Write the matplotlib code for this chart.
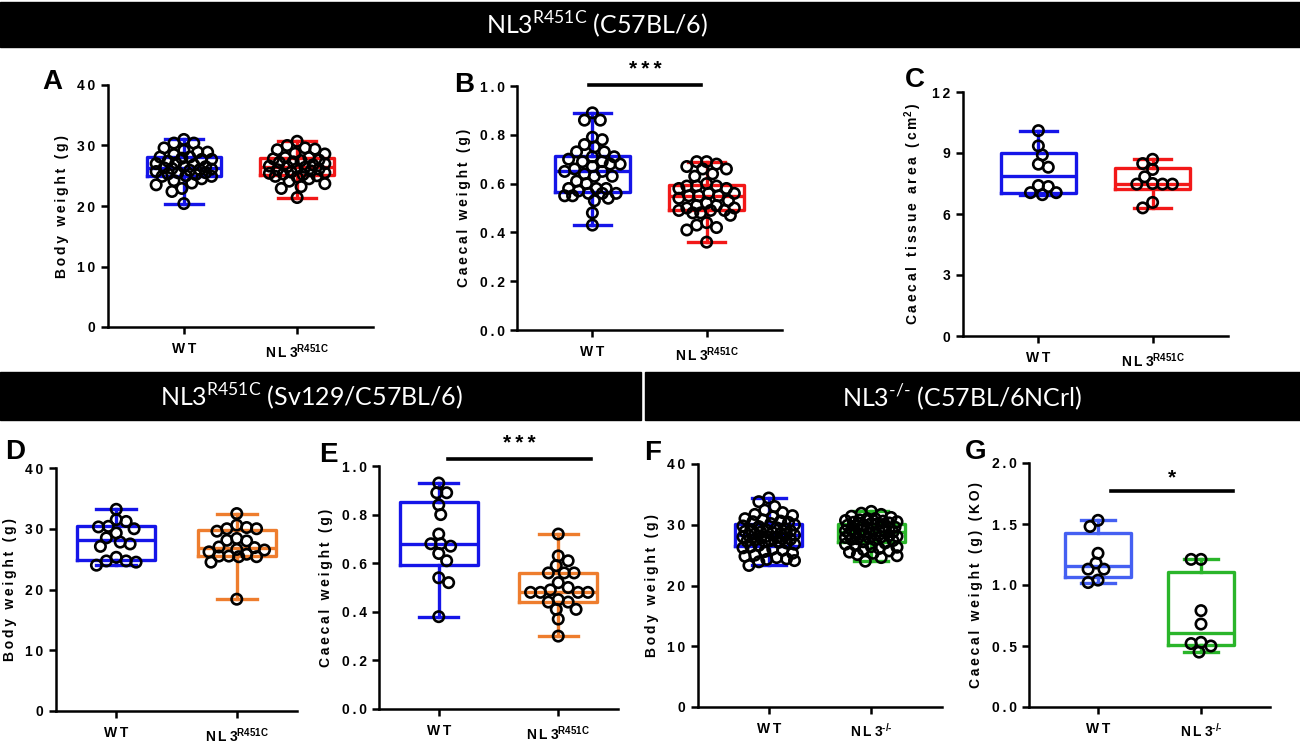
import numpy as np
import matplotlib
matplotlib.use("Agg")
import matplotlib.pyplot as plt
from matplotlib.patches import Rectangle

plt.rcParams['font.family'] = ['Liberation Sans', 'DejaVu Sans']
plt.rcParams['font.weight'] = 'bold'

W, H = 1300, 745

# ---- data ----
groups_r451c = ["WT", "NL3$^{\\mathregular{R451C}}$"]
groups_ko = ["WT", "NL3$^{\\mathregular{\u2010/\u2010}}$"]

a_wt = [31.0, 30.4, 30.4, 29.6, 29.2, 28.9, 28.9, 28.5, 28.1, 28.1, 27.9, 27.7, 27.7,
        27.4, 27.1, 27.0, 26.8, 26.5, 26.5, 26.3, 26.2, 26.1, 26.0, 25.9, 25.7, 25.5,
        25.5, 25.3, 25.2, 25.0, 24.9, 24.9, 24.5, 24.2, 23.8, 23.5, 22.9, 22.4, 20.4]
a_nl3 = [30.7, 30.0, 29.6, 29.4, 29.3, 28.7, 28.6, 28.0, 28.0, 27.8, 27.6, 27.5, 27.3,
         27.2, 27.0, 26.8, 26.6, 26.5, 26.4, 26.2, 26.1, 26.0, 25.8, 25.6, 25.5, 25.4,
         25.3, 25.2, 25.0, 24.9, 24.8, 24.5, 24.1, 23.7, 23.2, 22.9, 21.4]

b_wt = [0.89, 0.86, 0.86, 0.79, 0.78, 0.76, 0.75, 0.73, 0.73, 0.71, 0.71, 0.70, 0.69,
        0.69, 0.68, 0.68, 0.67, 0.66, 0.65, 0.65, 0.64, 0.63, 0.63, 0.61, 0.60, 0.58,
        0.58, 0.58, 0.57, 0.56, 0.56, 0.56, 0.55, 0.55, 0.54, 0.53, 0.48, 0.43]
b_nl3 = [0.69, 0.69, 0.68, 0.67, 0.66, 0.66, 0.64, 0.63, 0.60, 0.59, 0.59, 0.59, 0.58,
         0.58, 0.56, 0.56, 0.55, 0.55, 0.55, 0.54, 0.53, 0.52, 0.51, 0.51, 0.50, 0.50,
         0.49, 0.49, 0.49, 0.48, 0.48, 0.47, 0.44, 0.43, 0.42, 0.41, 0.36]

c_wt = [10.1, 9.35, 8.9, 8.45, 8.3, 7.4, 7.35, 7.05, 6.95, 7.05]
c_nl3 = [8.69, 8.48, 8.19, 7.83, 7.5, 7.47, 7.47, 7.47, 6.57, 6.3]

d_wt = [33.2, 31.5, 31.2, 30.4, 30.0, 30.3, 29.3, 28.5, 27.5, 27.1, 27.8, 25.3, 24.7,
        24.0, 24.5, 24.7]
d_nl3 = [32.5, 30.2, 30.0, 30.6, 30.0, 29.6, 28.4, 28.1, 28.0, 27.0, 26.9, 26.5, 26.6,
         26.2, 25.8, 25.5, 25.4, 25.4, 25.5, 24.5, 18.4]

e_wt = [0.93, 0.89, 0.89, 0.84, 0.80, 0.72, 0.68, 0.67, 0.68, 0.64, 0.61, 0.54, 0.52, 0.38]
e_nl3 = [0.72, 0.63, 0.61, 0.59, 0.56, 0.56, 0.56, 0.52, 0.50, 0.48, 0.48, 0.48, 0.48,
         0.49, 0.45, 0.44, 0.44, 0.41, 0.41, 0.37, 0.30]

f_wt = [34.4, 33.8, 33.0, 32.4, 32.0, 31.7, 31.5, 31.3, 31.0, 30.8, 30.6, 30.5, 30.4,
        30.2, 30.0, 29.8, 29.7, 29.5, 29.4, 29.2, 29.1, 29.0, 28.9, 28.8, 28.7, 28.6,
        28.5, 28.4, 28.3, 28.2, 28.1, 28.0, 27.9, 27.8, 27.7, 27.6, 27.5, 27.4, 27.3,
        27.2, 27.1, 27.0, 26.8, 26.6, 26.4, 26.2, 26.0, 25.8, 25.6, 25.3, 25.0, 24.8,
        24.6, 24.4, 24.3, 24.1, 23.9, 23.3]
f_nl3 = [32.2, 31.9, 31.7, 31.4, 31.2, 31.0, 31.0, 30.8, 30.7, 30.6, 30.5, 30.4, 30.3,
         30.2, 30.1, 30.0, 29.9, 29.8, 29.7, 29.6, 29.5, 29.4, 29.3, 29.2, 29.1, 29.0,
         28.9, 28.9, 28.8, 28.7, 28.6, 28.5, 28.4, 28.3, 28.2, 28.1, 28.0, 27.9, 27.8,
         27.7, 27.6, 27.5, 27.4, 27.2, 27.0, 26.8, 26.6, 26.4, 26.3, 26.1, 25.9, 25.7,
         25.5, 25.3, 25.1, 24.9, 24.6, 24.0]

g_wt = [1.53, 1.48, 1.26, 1.18, 1.13, 1.13, 1.02, 1.04]
g_nl3 = [1.21, 1.21, 0.79, 0.68, 0.52, 0.50, 0.53, 0.45]

BLUE = "#1515e8"
RED = "#f21818"
ORANGE = "#ee7d2e"
GREEN = "#2ab52a"
LBLUE = "#4560f2"

TS = "\u2009"
BOXW = 0.65


def spaced(s):
    # letter spaced text like the Prism export
    return TS.join(s)


def tick_label(lbl):
    if "$" in lbl:
        base, sup = lbl.split("$", 1)
        return spaced(base) + "$" + sup
    return spaced(lbl)


def prism_stats(vals):
    # min/max whiskers, quartiles on the (n+1) basis as Prism does
    v = np.asarray(vals, float)
    q1, med, q3 = np.percentile(v, [25, 50, 75], method='weibull')
    return dict(med=med, q1=q1, q3=q3, whislo=v.min(), whishi=v.max(), fliers=[])


def swarm(ax, pos, vals, diam, maxw):
    # beeswarm offsets in pixels, kept inside +-maxw (overlap allowed when full)
    t = ax.transData
    vals = np.asarray(vals, float)
    pts = t.transform(np.column_stack([np.full(len(vals), pos), vals]))
    x0 = pts[0, 0]
    ypx = pts[:, 1]
    order = np.argsort(-ypx)
    placed = []
    xs = np.zeros(len(vals))
    step = diam * 0.2
    nsteps = int(maxw / step)
    for n, i in enumerate(order):
        cands = [0.0]
        for k in range(1, nsteps + 1):
            pair = [k * step, -k * step]
            cands += pair if n % 2 == 0 else pair[::-1]
        best, bestd = 0.0, -1
        for c in cands:
            d = min([np.hypot(c - px, ypx[i] - py) for px, py in placed] or [1e9])
            if d >= diam:
                best = c
                break
            if d > bestd:
                best, bestd = c, d
        placed.append((best, ypx[i]))
        xs[i] = best
    back = t.inverted().transform(np.column_stack([x0 + xs, ypx]))
    return back[:, 0]


def panel(box, series, colors, groups, ylim, yticks, yfmt, ylabel, xpad, overlap=0.9):
    l, r, top, bot = box
    ax = fig.add_axes([l / W, 1 - bot / H, (r - l) / W, (bot - top) / H])
    ax.set_xlim(-xpad, 1 + xpad)
    ax.set_ylim(*ylim)
    for k, (vals, c) in enumerate(zip(series, colors)):
        lp = dict(color=c, linewidth=2.4)
        ax.bxp([prism_stats(vals)], positions=[k], widths=BOXW, capwidths=0.33,
               showfliers=False, boxprops=lp, medianprops=lp, whiskerprops=lp,
               capprops=lp, manage_ticks=False)
    px_per_x = (r - l) / (1 + 2 * xpad)
    for k, vals in enumerate(series):
        xs = swarm(ax, k, vals, 11 * overlap, 0.8 * BOXW / 2 * px_per_x)
        ax.scatter(xs, vals, s=56, facecolors='none', edgecolors='black',
                   linewidths=1.9, zorder=4, clip_on=False)
    for s in ('top', 'right'):
        ax.spines[s].set_visible(False)
    for s in ('left', 'bottom'):
        ax.spines[s].set_linewidth(1.8)
    ax.set_yticks(yticks)
    ax.set_yticklabels([spaced(yfmt.format(v)) for v in yticks])
    ax.set_xticks([0, 1])
    ax.set_xticklabels([tick_label(g) for g in groups])
    ax.tick_params(direction='out', length=5, width=1.8, labelsize=10, pad=4)
    ax.tick_params(axis='x', pad=6)
    ax.set_ylabel(ylabel if "$" in ylabel else spaced(ylabel), fontsize=10,
                  fontweight='bold', labelpad=6)
    return ax


fig = plt.figure(figsize=(13, 7.45), dpi=100)

# header bars
for (x0, y0, x1, y1) in [(0, 2, 1300, 47), (0, 372, 641, 420), (645, 372, 1300, 420)]:
    fig.patches.append(Rectangle((x0 / W, 1 - y1 / H), (x1 - x0) / W, (y1 - y0) / H,
                                 transform=fig.transFigure, color='black', zorder=0))
hdr = dict(color='white', fontsize=18, fontweight='normal', ha='center', va='center',
           family=['Lato', 'DejaVu Sans'])
fig.text(597 / W, 1 - 25 / H, "NL3$^{\\mathregular{R451C}}$ (C57BL/6)", **hdr)
fig.text(311 / W, 1 - 397 / H, "NL3$^{\\mathregular{R451C}}$ (Sv129/C57BL/6)", **hdr)
fig.text(962 / W, 1 - 397 / H, "NL3$^{\\mathregular{\u2010/\u2010}}$ (C57BL/6NCrl)", **hdr)

axA = panel((108, 373, 85, 327), [a_wt, a_nl3], [BLUE, RED], groups_r451c,
            (0, 40), [0, 10, 20, 30, 40], "{:.0f}", "Body weight (g)", 0.67)
axB = panel((517, 782, 86, 330), [b_wt, b_nl3], [BLUE, RED], groups_r451c,
            (0, 1.0), [0, 0.2, 0.4, 0.6, 0.8, 1.0], "{:.1f}", "Caecal weight (g)", 0.66)
axC = panel((963, 1228, 92, 336), [c_wt, c_nl3], [BLUE, RED], groups_r451c,
            (0, 12), [0, 3, 6, 9, 12], "{:.0f}",
            spaced("Caecal tissue area (cm") + "$^{\\mathregular{2}}$" + TS + ")", 0.66)
axD = panel((56, 297, 468, 711), [d_wt, d_nl3], [BLUE, ORANGE], groups_r451c,
            (0, 40), [0, 10, 20, 30, 40], "{:.0f}", "Body weight (g)", 0.5)
axE = panel((379, 618, 466, 709), [e_wt, e_nl3], [BLUE, ORANGE], groups_r451c,
            (0, 1.0), [0, 0.2, 0.4, 0.6, 0.8, 1.0], "{:.1f}", "Caecal weight (g)", 0.5)
axF = panel((698, 942, 464, 707), [f_wt, f_nl3], [BLUE, GREEN], groups_ko,
            (0, 40), [0, 10, 20, 30, 40], "{:.0f}", "Body weight (g)", 0.69)
axG = panel((1029, 1270, 463, 707), [g_wt, g_nl3], [LBLUE, GREEN], groups_ko,
            (0, 2.0), [0, 0.5, 1.0, 1.5, 2.0], "{:.1f}", "Caecal weight (g) (KO)", 0.67)

# significance bars
for ax, (x0, x1, yb, ys, txt) in [(axB, (-0.03, 0.95, 1.005, 1.03, "***")),
                                  (axE, (0.08, 1.27, 1.03, 1.055, "***")),
                                  (axG, (0.13, 1.31, 1.77, 1.80, "*"))]:
    ax.plot([x0, x1], [yb, yb], color='black', lw=2.6, clip_on=False)
    ax.text((x0 + x1) / 2, ys, spaced(txt), ha='center', va='bottom', fontsize=15,
            fontweight='bold', clip_on=False)

# panel letters
for letter, x, y in [("A", 52, 82), ("B", 464, 85), ("C", 915, 80), ("D", 15, 452),
                     ("E", 328, 455), ("F", 653, 453), ("G", 976, 452)]:
    fig.text(x / W, 1 - y / H, letter, fontsize=20, fontweight='bold', ha='center',
             va='center')

fig.savefig("out.png", dpi=100)
